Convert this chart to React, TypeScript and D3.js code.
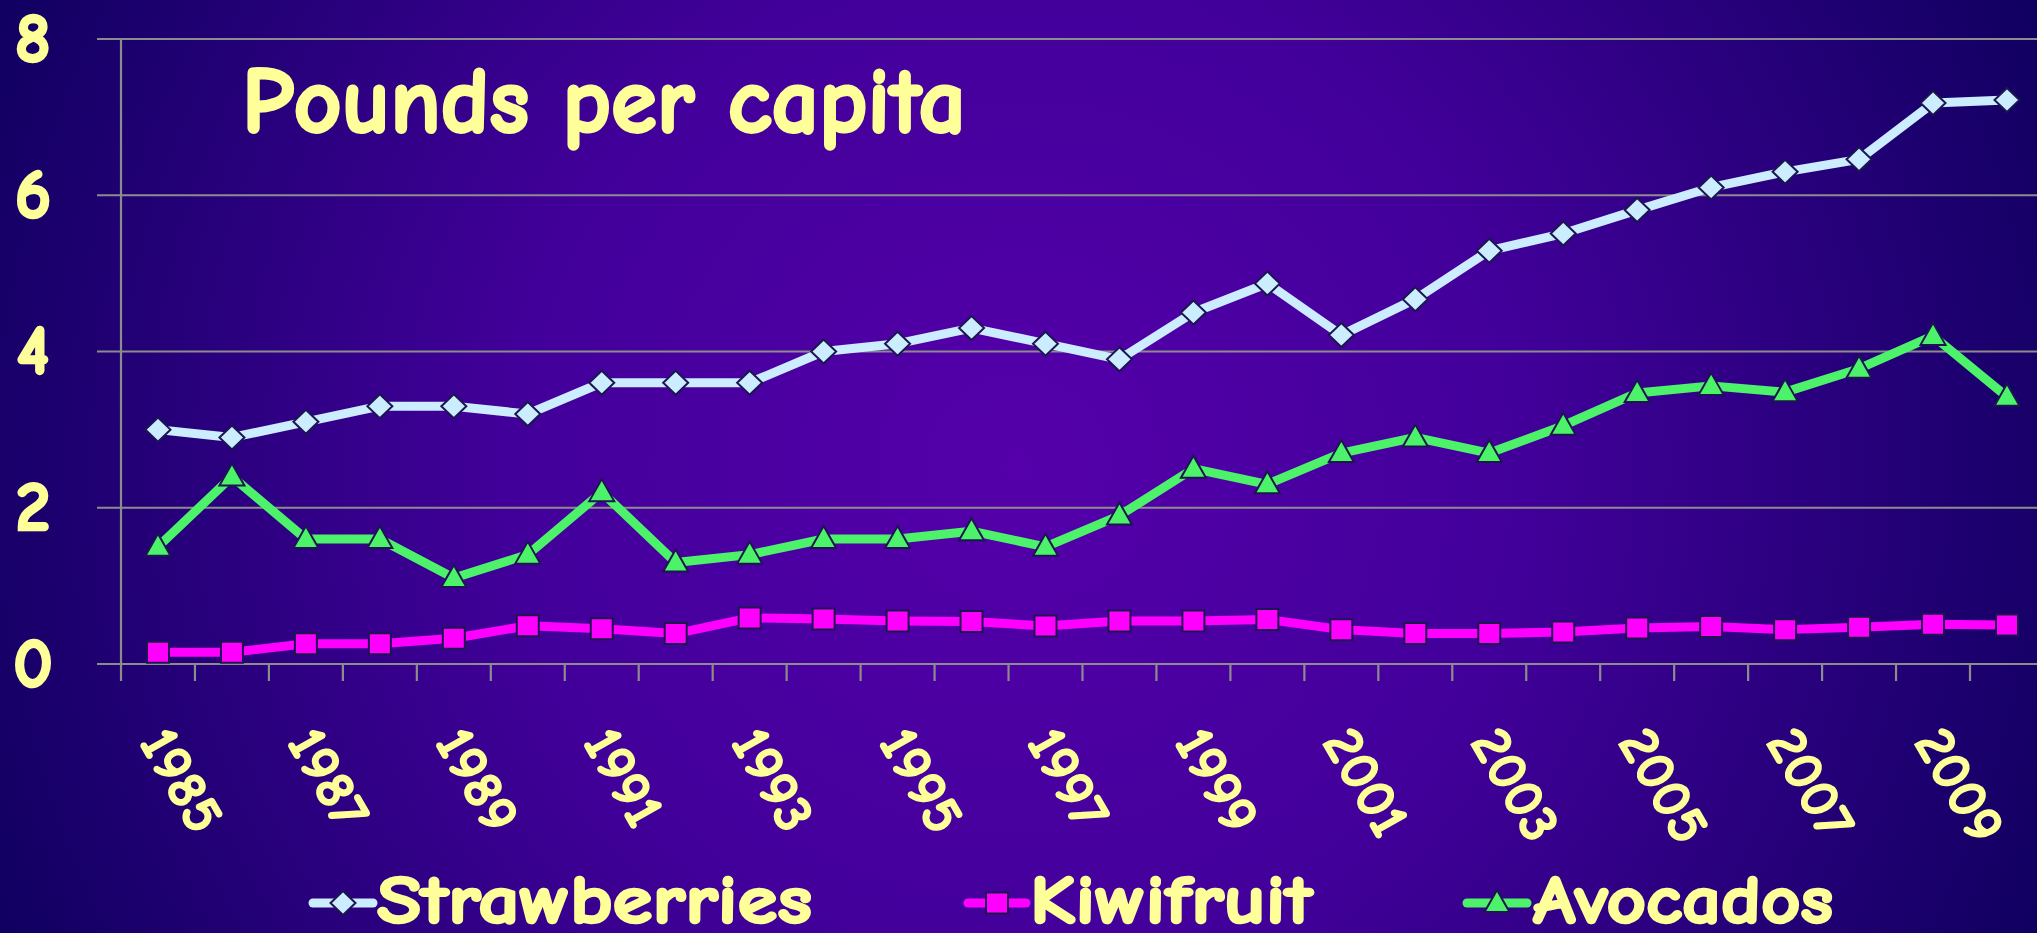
import React, { useEffect } from 'react';
import * as d3 from 'd3';

const years = [1985, 1986, 1987, 1988, 1989, 1990, 1991, 1992, 1993, 1994, 1995, 1996, 1997, 1998, 1999, 2000, 2001, 2002, 2003, 2004, 2005, 2006, 2007, 2008, 2009, 2010];
const yearLabels = [1985, 1987, 1989, 1991, 1993, 1995, 1997, 1999, 2001, 2003, 2005, 2007, 2009];
const strawberries = [3.0, 2.9, 3.1, 3.3, 3.3, 3.2, 3.6, 3.6, 3.6, 4.0, 4.1, 4.3, 4.1, 3.9, 4.5, 4.87, 4.21, 4.67, 5.29, 5.51, 5.81, 6.1, 6.3, 6.46, 7.18, 7.22];
const kiwifruit = [0.15, 0.15, 0.26, 0.26, 0.33, 0.49, 0.45, 0.39, 0.59, 0.575, 0.55, 0.545, 0.486, 0.55, 0.55, 0.57, 0.44, 0.39, 0.39, 0.41, 0.46, 0.48, 0.44, 0.47, 0.51, 0.5];
const avocados = [1.5, 2.4, 1.6, 1.6, 1.1, 1.4, 2.2, 1.3, 1.4, 1.6, 1.6, 1.7, 1.5, 1.9, 2.5, 2.3, 2.7, 2.9, 2.7, 3.05, 3.47, 3.56, 3.48, 3.78, 4.2, 3.42];
const yTicks = [0, 2, 4, 6, 8];
const seriesNames = ['Strawberries', 'Kiwifruit', 'Avocados'];
const title = 'Pounds per capita';

const W = 2037;
const H = 933;
const FONT = "'Comic Sans MS', 'Comic Neue', Lato, sans-serif";
const TEXT = '#FFFF99';
const MARK_STROKE = '#1C1650';

type Shape = 'diamond' | 'square' | 'triangle';

function markerPath(shape: Shape, x: number, y: number): string {
  if (shape === 'diamond') {
    const rx = 12.5, ry = 12;
    return `M${x},${y - ry}L${x + rx},${y}L${x},${y + ry}L${x - rx},${y}Z`;
  }
  if (shape === 'square') {
    const hw = 11, hh = 10.5;
    return `M${x - hw},${y - hh}L${x + hw},${y - hh}L${x + hw},${y + hh}L${x - hw},${y + hh}Z`;
  }
  const hw = 12.5, top = 13, bot = 9;
  return `M${x},${y - top}L${x + hw},${y + bot}L${x - hw},${y + bot}Z`;
}

export default function App() {
  useEffect(() => {
    document.body.style.margin = '0';
  }, []);

  const left = 121;
  const bw = 73.96;
  const x = d3.scaleBand<number>().domain(years).range([left, left + bw * years.length]).paddingInner(0).paddingOuter(0);
  const y = d3.scaleLinear().domain([0, 8]).range([664, 39]);
  const cx = (yr: number) => (x(yr) as number) + x.bandwidth() / 2;

  const series = [
    { name: seriesNames[0], values: strawberries, color: '#CCECFF', shape: 'diamond' as Shape },
    { name: seriesNames[1], values: kiwifruit, color: '#FF00FF', shape: 'square' as Shape },
    { name: seriesNames[2], values: avocados, color: '#4DF26B', shape: 'triangle' as Shape },
  ];

  const line = d3.line<number>().x((_, i) => cx(years[i])).y((d) => y(d));

  const legendPos = [
    { lineX0: 313, lineX1: 373, mx: 343, tx: 377, tw: 435 },
    { lineX0: 968, lineX1: 1026, mx: 997, tx: 1030, tw: 282 },
    { lineX0: 1467, lineX1: 1527, mx: 1497, tx: 1533, tw: 300 },
  ];
  const legendY = 903;

  const xRange = x.range();

  return (
    <svg width={W} height={H} viewBox={`0 0 ${W} ${H}`} style={{ display: 'block', position: 'absolute', left: 0, top: 0 }}>
      <defs>
        <radialGradient id="bg" gradientUnits="userSpaceOnUse" cx={W / 2} cy={H / 2} r={1120}>
          <stop offset="0" stopColor="#5500AA" />
          <stop offset="0.45" stopColor="#42009A" />
          <stop offset="1" stopColor="#100060" />
        </radialGradient>
        <clipPath id="clip">
          <rect x={0} y={0} width={W} height={H} />
        </clipPath>
      </defs>
      <rect x={0} y={0} width={W} height={H} fill="url(#bg)" />

      <g clipPath="url(#clip)">
        {yTicks.map((t) => (
          <line key={t} x1={97} x2={W} y1={y(t)} y2={y(t)} stroke="#8C8C8C" strokeWidth={2.2} />
        ))}
        <line x1={left} x2={left} y1={y(8)} y2={y(0) + 17} stroke="#8C8C8C" strokeWidth={2.2} />
        {years.map((yr) => (
          <line key={yr} x1={(x(yr) as number) + bw} x2={(x(yr) as number) + bw} y1={y(0)} y2={y(0) + 17} stroke="#8C8C8C" strokeWidth={2.2} />
        ))}
        <line x1={xRange[0]} x2={W} y1={y(0)} y2={y(0)} stroke="#8C8C8C" strokeWidth={2.2} />

        {series.map((s) => (
          <g key={s.name}>
            <path d={line(s.values) || ''} fill="none" stroke={s.color} strokeWidth={9} strokeLinejoin="round" />
            {s.values.map((v, i) => (
              <path key={i} d={markerPath(s.shape, cx(years[i]), y(v))} fill={s.color} stroke={MARK_STROKE} strokeWidth={2} strokeLinejoin="miter" />
            ))}
          </g>
        ))}
      </g>

      {yTicks.map((t) => (
        <text key={t} x={33} y={y(t)} fill={TEXT} stroke={TEXT} strokeWidth={2.5} fontFamily={FONT} fontWeight="bold" fontSize={70} textAnchor="middle" dominantBaseline="central">
          {t}
        </text>
      ))}

      {yearLabels.map((yr) => {
        const lx = cx(yr) - 4;
        const ly = 733;
        return (
          <text key={yr} x={lx} y={ly} fill={TEXT} stroke={TEXT} strokeWidth={1.5} fontFamily={FONT} fontWeight="bold" fontSize={56} textAnchor="start" dominantBaseline="central" transform={`rotate(60 ${lx} ${ly})`}>
            {yr}
          </text>
        );
      })}

      <text x={242} y={132} fill={TEXT} stroke={TEXT} strokeWidth={3} fontFamily={FONT} fontWeight="bold" fontSize={94} textLength={724} lengthAdjust="spacingAndGlyphs">
        {title}
      </text>

      {series.map((s, i) => {
        const p = legendPos[i];
        return (
          <g key={s.name}>
            <line x1={p.lineX0} x2={p.lineX1} y1={legendY} y2={legendY} stroke={s.color} strokeWidth={9} strokeLinecap="round" />
            <path d={markerPath(s.shape, p.mx, legendY)} fill={s.color} stroke={MARK_STROKE} strokeWidth={2} />
            <text x={p.tx} y={923} fill={TEXT} stroke={TEXT} strokeWidth={2.5} fontFamily={FONT} fontWeight="bold" fontSize={68} textLength={p.tw} lengthAdjust="spacingAndGlyphs">
              {s.name}
            </text>
          </g>
        );
      })}
    </svg>
  );
}
